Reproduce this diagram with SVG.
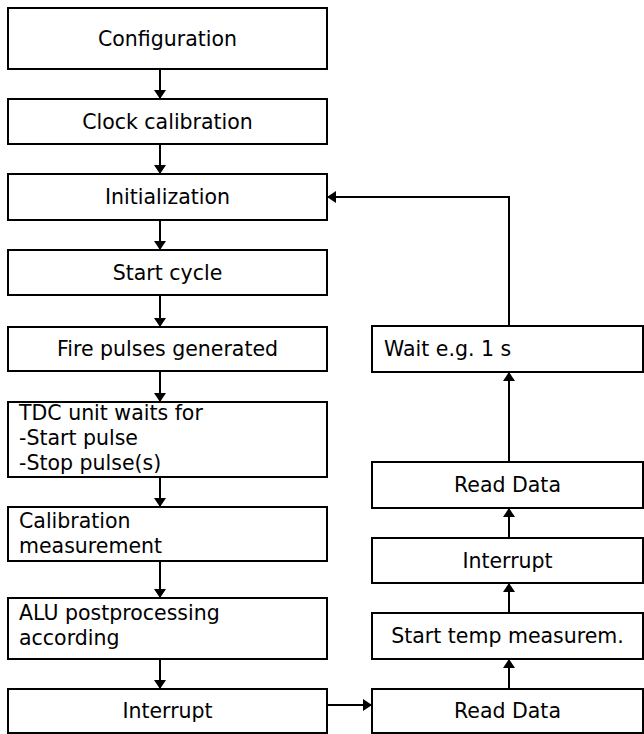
<svg xmlns="http://www.w3.org/2000/svg" width="644" height="734" viewBox="0 0 644 734">
<style>
.box{fill:#fff;stroke:#000;stroke-width:2}
text{font-family:"DejaVu Sans",Verdana,sans-serif;font-size:20.5px;fill:#000}
.c{text-anchor:middle}
.ln{fill:none;stroke:#000;stroke-width:2}
</style>
<defs>
<marker id="ah" viewBox="0 0 9 12" refX="9" refY="6" markerWidth="4.5" markerHeight="6" markerUnits="strokeWidth" orient="auto">
<path d="M0,0 L9,6 L0,12 z" fill="#000"/>
</marker>
</defs>
<rect width="644" height="734" fill="#fff"/>
<g id="connectors">
<line class="ln" x1="160" y1="69" x2="160" y2="99" marker-end="url(#ah)"/>
<line class="ln" x1="160" y1="144" x2="160" y2="174" marker-end="url(#ah)"/>
<line class="ln" x1="160" y1="220" x2="160" y2="250" marker-end="url(#ah)"/>
<line class="ln" x1="160" y1="295" x2="160" y2="327" marker-end="url(#ah)"/>
<line class="ln" x1="160" y1="371" x2="160" y2="402" marker-end="url(#ah)"/>
<line class="ln" x1="160" y1="477" x2="160" y2="507" marker-end="url(#ah)"/>
<line class="ln" x1="160" y1="561" x2="160" y2="598" marker-end="url(#ah)"/>
<line class="ln" x1="160" y1="659" x2="160" y2="689" marker-end="url(#ah)"/>
<line class="ln" x1="327" y1="705" x2="372" y2="705" marker-end="url(#ah)"/>
<line class="ln" x1="509" y1="689" x2="509" y2="659" marker-end="url(#ah)"/>
<line class="ln" x1="509" y1="613" x2="509" y2="583" marker-end="url(#ah)"/>
<line class="ln" x1="509" y1="538" x2="509" y2="508" marker-end="url(#ah)"/>
<line class="ln" x1="509" y1="462" x2="509" y2="372" marker-end="url(#ah)"/>
<polyline class="ln" points="509,326 509,197 327,197" marker-end="url(#ah)"/>
</g>
<g id="configuration"><rect class="box" x="8" y="8" width="319" height="61"/><text class="c" x="167.5" y="45.5">Configuration</text></g>
<g id="clock-calibration"><rect class="box" x="8" y="99" width="319" height="45"/><text class="c" x="167.5" y="128.5">Clock calibration</text></g>
<g id="initialization"><rect class="box" x="8" y="174" width="319" height="46"/><text class="c" x="167.5" y="204">Initialization</text></g>
<g id="start-cycle"><rect class="box" x="8" y="250" width="319" height="45"/><text class="c" x="167.5" y="279.5">Start cycle</text></g>
<g id="fire-pulses"><rect class="box" x="8" y="327" width="319" height="44"/><text class="c" x="167.5" y="356">Fire pulses generated</text></g>
<g id="tdc-wait"><rect class="box" x="8" y="402" width="319" height="75"/><text x="19" y="420">TDC unit waits for</text><text x="19" y="445">-Start pulse</text><text x="19" y="470">-Stop pulse(s)</text></g>
<g id="calibration-measurement"><rect class="box" x="8" y="507" width="319" height="54"/><text x="19" y="528">Calibration</text><text x="19" y="553">measurement</text></g>
<g id="alu"><rect class="box" x="8" y="598" width="319" height="61"/><text x="19" y="620">ALU postprocessing</text><text x="19" y="645">according</text></g>
<g id="interrupt-left"><rect class="box" x="8" y="689" width="319" height="44"/><text class="c" x="167.5" y="718">Interrupt</text></g>
<g id="read-data-bottom"><rect class="box" x="372" y="689" width="271" height="44"/><text class="c" x="507.5" y="718">Read Data</text></g>
<g id="start-temp"><rect class="box" x="372" y="613" width="271" height="46"/><text class="c" x="507.5" y="643">Start temp measurem.</text></g>
<g id="interrupt-right"><rect class="box" x="372" y="538" width="271" height="45"/><text class="c" x="507.5" y="567.5">Interrupt</text></g>
<g id="read-data-top"><rect class="box" x="372" y="462" width="271" height="46"/><text class="c" x="507.5" y="492">Read Data</text></g>
<g id="wait"><rect class="box" x="372" y="326" width="271" height="46"/><text x="384" y="356">Wait e.g. 1 s</text></g>
</svg>
